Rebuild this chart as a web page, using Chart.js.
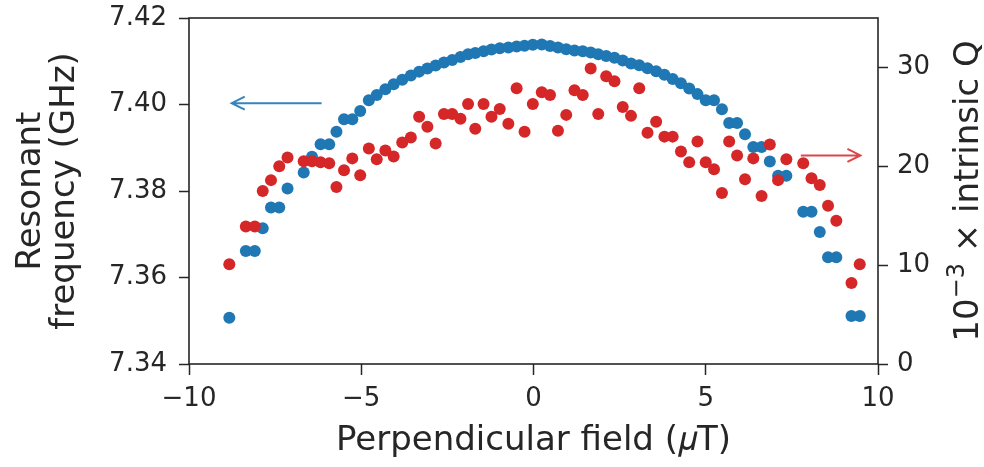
<!DOCTYPE html>
<html>
<head>
<meta charset="utf-8">
<script src="https://cdn.jsdelivr.net/npm/chart.js@4/dist/chart.umd.min.js"></script>
<style>
  html, body { margin: 0; padding: 0; background: #fff; }
  #wrap { width: 984px; height: 467px; position: relative; }
</style>
</head>
<body>
<div id="wrap"><canvas id="c" width="984" height="467"></canvas></div>
<script>
// ---- data ----
const fieldUT = [-8.83, -8.35, -8.09, -7.86, -7.62, -7.38, -7.14, -6.67, -6.43, -6.18,
  -5.93, -5.72, -5.50, -5.26, -5.03, -4.78, -4.55, -4.30, -4.06, -3.81,
  -3.56, -3.32, -3.08, -2.84, -2.60, -2.36, -2.12, -1.90, -1.69, -1.45,
  -1.22, -0.98, -0.73, -0.49, -0.26, -0.02, 0.24, 0.48, 0.71, 0.95,
  1.19, 1.43, 1.66, 1.88, 2.11, 2.35, 2.59, 2.83, 3.07, 3.31,
  3.56, 3.80, 4.04, 4.28, 4.52, 4.76, 5.00, 5.24, 5.47, 5.68,
  5.91, 6.14, 6.38, 6.62, 6.86, 7.10, 7.34, 7.83, 8.07, 8.31,
  8.55, 8.79, 9.23, 9.47];
const resonantFreqGHz = [7.3507, 7.3661, 7.3661, 7.3714, 7.3762, 7.3762, 7.3806, 7.3843, 7.3879, 7.3908,
  7.3908, 7.3937, 7.3966, 7.3966, 7.3985, 7.4010, 7.4022, 7.4035, 7.4047, 7.4057,
  7.4067, 7.4076, 7.4083, 7.4090, 7.4097, 7.4103, 7.4110, 7.4116, 7.4119, 7.4123,
  7.4127, 7.4130, 7.4132, 7.4134, 7.4136, 7.4138, 7.4139, 7.4135, 7.4132, 7.4128,
  7.4125, 7.4123, 7.4120, 7.4116, 7.4112, 7.4108, 7.4102, 7.4095, 7.4091, 7.4084,
  7.4077, 7.4069, 7.4059, 7.4049, 7.4037, 7.4024, 7.4010, 7.4010, 7.3989, 7.3957,
  7.3957, 7.3931, 7.3902, 7.3902, 7.3868, 7.3835, 7.3835, 7.3752, 7.3752, 7.3705,
  7.3647, 7.3647, 7.3511, 7.3511];
const intrinsicQk = [10.1, 13.9, 13.9, 17.5, 18.6, 20.0, 20.9, 20.5, 20.5, 20.4,
  20.3, 17.9, 19.6, 20.8, 19.1, 21.8, 20.7, 21.6, 21.0, 22.4,
  22.9, 25.0, 24.0, 22.3, 25.3, 25.3, 24.8, 26.3, 23.8, 26.3,
  25.0, 25.8, 24.3, 27.9, 23.5, 26.3, 27.5, 27.2, 23.6, 25.2,
  27.7, 27.2, 29.9, 25.3, 29.1, 28.6, 26.0, 25.1, 27.9, 23.4,
  24.5, 23.0, 23.0, 21.5, 20.4, 22.5, 20.4, 19.7, 17.3, 22.5,
  21.1, 18.7, 20.8, 17.0, 22.2, 18.6, 20.7, 20.3, 18.8, 18.1,
  16.0, 14.5, 8.2, 10.1];
const xTicks = [-10, -5, 0, 5, 10];
const yLeftTicks = [7.34, 7.36, 7.38, 7.40, 7.42];
const yRightTicks = [0, 10, 20, 30];
// annotation arrows (data units)
const arrowFreq = { from: -6.15, to: -8.76, y: 7.4003 };
const arrowQ = { from: 7.76, to: 9.49, y: 21.1 };

const BLUE = '#1f77b4', RED = '#d62728', INK = '#262626';
const FONT = "'DejaVu Sans', sans-serif";

const freqPts = fieldUT.map((x, i) => ({ x, y: resonantFreqGHz[i] }));
const qPts = fieldUT.map((x, i) => ({ x, y: intrinsicQk[i] }));

function fmtMinus(v) { return v < 0 ? '\u2212' + Math.abs(v) : String(v); }

const framePlugin = {
  id: 'frame',
  afterDraw(chart) {
    const { ctx, chartArea: a, scales } = chart;
    ctx.save();
    ctx.strokeStyle = INK;
    ctx.lineWidth = 1.6;
    ctx.strokeRect(a.left, a.top, a.right - a.left, a.bottom - a.top);

    function arrow(x0, x1, y, color) {
      ctx.strokeStyle = color;
      ctx.lineWidth = 2;
      ctx.beginPath();
      ctx.moveTo(x0, y); ctx.lineTo(x1, y);
      const dir = x1 > x0 ? -1 : 1;
      ctx.moveTo(x1 + dir * 13, y - 6.5); ctx.lineTo(x1, y); ctx.lineTo(x1 + dir * 13, y + 6.5);
      ctx.stroke();
    }
    arrow(scales.x.getPixelForValue(arrowFreq.from), scales.x.getPixelForValue(arrowFreq.to),
      scales.y.getPixelForValue(arrowFreq.y), 'rgba(31,119,180,0.9)');
    arrow(scales.x.getPixelForValue(arrowQ.from), scales.x.getPixelForValue(arrowQ.to),
      scales.y2.getPixelForValue(arrowQ.y), 'rgba(214,39,40,0.85)');

    // right axis title: 10^-3 × intrinsic Q, reading bottom-to-top
    const big = 34, small = 24;
    const parts = [
      { t: '10', f: big, dy: 0 },
      { t: '\u22123', f: small, dy: -14 },
      { t: ' \u00d7 intrinsic Q', f: big, dy: 0 }
    ];
    let total = 0;
    parts.forEach(p => { ctx.font = p.f + 'px ' + FONT; p.w = ctx.measureText(p.t).width; total += p.w; });
    const cy = (a.top + a.bottom) / 2;
    ctx.translate(chart.width - 6, cy);
    ctx.rotate(-Math.PI / 2);
    ctx.fillStyle = INK;
    ctx.textBaseline = 'alphabetic';
    ctx.textAlign = 'left';
    let x = -total / 2;
    parts.forEach(p => { ctx.font = p.f + 'px ' + FONT; ctx.fillText(p.t, x, p.dy); x += p.w; });
    ctx.restore();
  }
};

function noOverflow(s) { s.paddingTop = 0; s.paddingBottom = 0; }

new Chart(document.getElementById('c'), {
  type: 'scatter',
  data: {
    datasets: [
      { label: 'Intrinsic Q', data: qPts, yAxisID: 'y2', order: 1,
        backgroundColor: RED, borderColor: RED, pointRadius: 6, pointBorderWidth: 0, pointHoverRadius: 6 },
      { label: 'Resonant frequency', data: freqPts, yAxisID: 'y', order: 2,
        backgroundColor: BLUE, borderColor: BLUE, pointRadius: 6, pointBorderWidth: 0, pointHoverRadius: 6 }
    ]
  },
  options: {
    responsive: false,
    animation: false,
    events: [],
    layout: { padding: { top: 18, left: 0, right: 0, bottom: 0 } },
    plugins: { legend: { display: false }, tooltip: { enabled: false } },
    scales: {
      x: {
        type: 'linear', min: -10, max: 10, position: 'bottom',
        afterFit(s) { s.height = 103; s.paddingLeft = 0; s.paddingRight = 0; },
        afterBuildTicks(s) { s.ticks = xTicks.map(v => ({ value: v })); },
        border: { display: false },
        grid: { drawOnChartArea: false, drawTicks: true, tickLength: 11, tickColor: INK, tickWidth: 1.5 },
        ticks: { color: INK, font: { family: FONT, size: 26 }, padding: 9, maxRotation: 0, callback: fmtMinus },
        title: { display: true, text: 'Perpendicular field (\u{1D707}T)', color: INK,
          font: { family: FONT, size: 34, lineHeight: 1.0 }, padding: { top: 0, bottom: 9 } }
      },
      y: {
        type: 'linear', min: 7.34, max: 7.42, position: 'left',
        afterFit(s) { s.width = 189; noOverflow(s); },
        afterBuildTicks(s) { s.ticks = yLeftTicks.map(v => ({ value: v })); },
        border: { display: false },
        grid: { drawOnChartArea: false, drawTicks: true, tickLength: 10, tickColor: INK, tickWidth: 1.5 },
        ticks: { color: INK, font: { family: FONT, size: 26 }, padding: 12, callback: v => v.toFixed(2) },
        title: { display: true, text: ['Resonant', 'frequency (GHz)'], color: INK,
          font: { family: FONT, size: 34, lineHeight: 1.0 }, padding: { top: 14, bottom: 0 } }
      },
      y2: {
        type: 'linear', min: 0, max: 35, position: 'right',
        afterFit(s) { s.width = 106; noOverflow(s); },
        afterBuildTicks(s) { s.ticks = yRightTicks.map(v => ({ value: v })); },
        border: { display: false },
        grid: { drawOnChartArea: false, drawTicks: true, tickLength: 10, tickColor: INK, tickWidth: 1.5 },
        ticks: { color: INK, font: { family: FONT, size: 26 }, padding: 9 }
      }
    }
  },
  plugins: [framePlugin]
});
</script>
</body>
</html>
